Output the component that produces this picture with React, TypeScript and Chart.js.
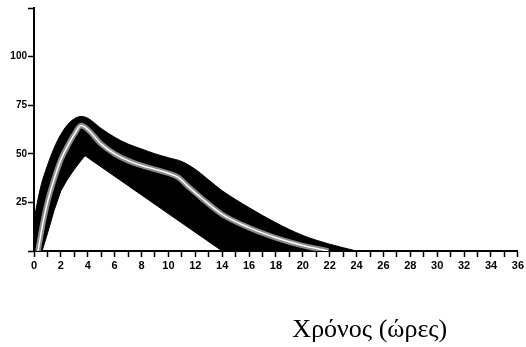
import React, { useEffect, useRef } from "react";
import { Chart, registerables } from "chart.js";

Chart.register(...registerables);

// Band upper edge
const upperX = [0, 0.25, 0.5, 1, 1.5, 2, 2.5, 3, 3.5, 4, 5, 6, 7, 8, 9, 10, 11, 12, 13, 14, 16, 18, 20, 22, 24];
const upperY = [16, 25, 33, 44, 53, 60, 65, 68, 69.2, 68.3, 63, 58.5, 55, 52.5, 50, 48, 46, 42, 36.5, 31, 22.3, 14.5, 8, 3.5, 0];

// Band lower edge
const lowerX = [0, 0.6, 1, 1.5, 2, 2.5, 3, 3.5, 3.8, 9, 14, 24];
const lowerY = [0, 0, 9, 21, 31, 37, 42, 46.5, 49, 24, 0, 0];

// Mean (white) curve
const meanX = [0.3, 0.6, 1, 1.5, 2, 2.5, 3, 3.5, 4, 5, 6, 7, 8, 9, 10, 10.7, 11.5, 12.5, 14, 16, 18, 20, 21.9];
const meanY = [0, 12, 25, 37, 47, 54, 60, 64.5, 62.5, 55, 50, 46.5, 44, 42, 40, 38, 33, 27, 18.8, 12, 6.8, 2.8, 0];

const yTicks = [0, 25, 50, 75, 100, 125];
const yLabels = ["", "25", "50", "75", "100", ""];
const xMin = 0;
const xMax = 36;
const xTitle = "Χρόνος (ώρες)";

const pts = (xs: number[], ys: number[]) => xs.map((x, i) => ({ x, y: ys[i] }));

export default function App() {
  const ref = useRef<HTMLCanvasElement | null>(null);
  useEffect(() => {
    document.body.style.margin = "0";
    const canvas = ref.current;
    if (!canvas) return;
    const titlePlugin = {
      id: "xTitle",
      afterDraw(chart: any) {
        const { ctx, chartArea } = chart;
        ctx.save();
        ctx.font = '26px "Liberation Serif", "DejaVu Serif", serif';
        ctx.fillStyle = "#000";
        ctx.textAlign = "center";
        ctx.textBaseline = "alphabetic";
        const cx = chartArea.left + (chartArea.right - chartArea.left) * 0.694;
        ctx.fillText(xTitle, cx, chartArea.bottom + 86);
        ctx.restore();
      },
    };
    const chart = new Chart(canvas, {
      type: "line",
      data: {
        datasets: [
          {
            data: pts(upperX, upperY),
            borderColor: "#000",
            backgroundColor: "#000",
            borderWidth: 1,
            pointRadius: 0,
            cubicInterpolationMode: "monotone",
            fill: 1,
            order: 3,
          },
          {
            data: pts(lowerX, lowerY),
            borderColor: "#000",
            borderWidth: 1,
            pointRadius: 0,
            tension: 0,
            fill: false,
            order: 2,
          },
          {
            data: pts(meanX, meanY),
            borderColor: "#8a8a8a",
            borderWidth: 5.5,
            pointRadius: 0,
            cubicInterpolationMode: "monotone",
            fill: false,
            order: 1,
          },
          {
            data: pts(meanX, meanY),
            borderColor: "#ffffff",
            borderWidth: 1.5,
            pointRadius: 0,
            cubicInterpolationMode: "monotone",
            fill: false,
            order: 0,
          },
        ],
      },
      options: {
        responsive: false,
        animation: false,
        devicePixelRatio: 1,
        layout: { padding: { top: 8, right: 6, left: 0, bottom: 0 } },
        plugins: { legend: { display: false }, tooltip: { enabled: false } },
        scales: {
          x: {
            type: "linear",
            min: xMin,
            max: xMax,
            afterFit: (s: any) => {
              s.height = 96;
            },
            border: { display: true, color: "#000", width: 2 },
            grid: { drawOnChartArea: false, drawTicks: true, tickLength: 6, color: "#000", tickWidth: 1.5 },
            ticks: {
              stepSize: 1,
              autoSkip: false,
              maxRotation: 0,
              padding: 2,
              color: "#000",
              font: { family: '"Liberation Sans", Arial, sans-serif', size: 11, weight: "bold" },
              callback: (v: any) => (Number(v) % 2 === 0 ? String(v) : ""),
            },
          },
          y: {
            min: yTicks[0],
            max: yTicks[yTicks.length - 1],
            afterFit: (s: any) => {
              s.width = 34;
            },
            afterBuildTicks: (s: any) => {
              s.ticks = yTicks.map((v) => ({ value: v }));
            },
            border: { display: true, color: "#000", width: 2 },
            grid: { drawOnChartArea: false, drawTicks: true, tickLength: 6, color: "#000", tickWidth: 1.5 },
            ticks: {
              padding: 1,
              color: "#000",
              font: { family: '"Liberation Sans", Arial, sans-serif', size: 10, weight: "bold" },
              callback: (v: any) => {
                const i = yTicks.indexOf(Number(v));
                return i >= 0 ? yLabels[i] : "";
              },
            },
          },
        },
      },
      plugins: [titlePlugin],
    } as any);
    return () => chart.destroy();
  }, []);
  return (
    <div style={{ width: 526, height: 347 }}>
      <canvas ref={ref} width={526} height={347} style={{ display: "block" }} />
    </div>
  );
}
